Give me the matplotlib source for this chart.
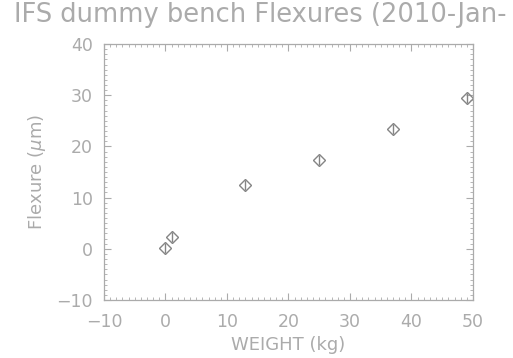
import matplotlib
matplotlib.use("Agg")
import matplotlib.pyplot as plt
from matplotlib.ticker import MultipleLocator

weight = [0, 1, 13, 25, 37, 49]
flexure = [0.1, 2.3, 12.4, 17.3, 23.4, 29.5]
flexure_err = [1.0, 1.0, 1.0, 1.0, 1.0, 1.0]

title = "IFS dummy bench Flexures (2010-Jan-"
xlabel = "WEIGHT (kg)"
ylabel = "Flexure ($\\mu$m)"

grey = "#ababab"
mgrey = "#858585"

plt.rcParams['font.family'] = ['DejaVu Sans']
fig = plt.figure(figsize=(5.13, 3.58), dpi=100)
ax = fig.add_axes([0.2027, 0.162, 0.922 - 0.2027, 0.877 - 0.162])

ax.errorbar(weight, flexure, yerr=flexure_err, fmt='D', mfc='none', mec=mgrey,
            ms=6.5, mew=1.0, ecolor=mgrey, elinewidth=1.0, capsize=0)

ax.set_xlim(-10, 50)
ax.set_ylim(-10, 40)
ax.xaxis.set_major_locator(MultipleLocator(10))
ax.xaxis.set_minor_locator(MultipleLocator(1))
ax.yaxis.set_major_locator(MultipleLocator(10))
ax.yaxis.set_minor_locator(MultipleLocator(1))
ax.tick_params(which='both', direction='in', top=True, right=True, colors=grey,
               labelcolor=grey, labelsize=12.5)
ax.tick_params(which='major', length=5, width=0.8)
ax.tick_params(which='minor', length=2.5, width=0.6)
ax.tick_params(axis='x', which='major', pad=9)
ax.tick_params(axis='y', which='major', pad=8)
for s in ax.spines.values():
    s.set_color(grey)
    s.set_linewidth(0.9)

ax.set_xlabel(xlabel, color=grey, fontsize=13, labelpad=4)
ax.set_ylabel(ylabel, color=grey, fontsize=13, labelpad=6)
fig.text(14 / 513, 1 - 2 / 358, title, color=grey, fontsize=18.5, ha='left', va='top')

fig.savefig("out.png", dpi=100)
